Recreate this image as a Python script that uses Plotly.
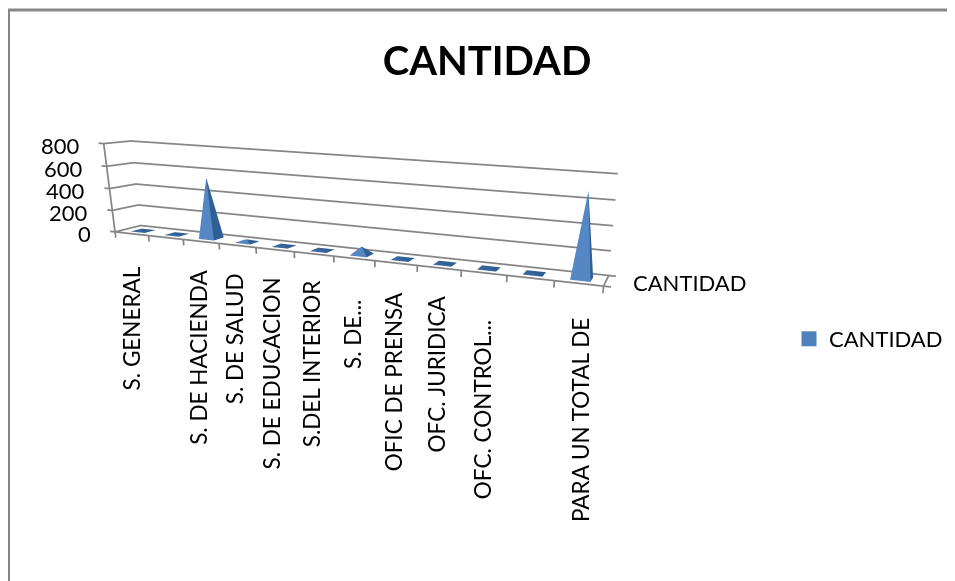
import plotly.graph_objects as go

# values
categories = ["S. GENERAL", "", "S. DE HACIENDA", "S. DE SALUD", "S. DE EDUCACION", "S.DEL INTERIOR",
              "S. DE...", "OFIC DE PRENSA", "OFC. JURIDICA", "OFC. CONTROL...", "", "PARA UN TOTAL DE"]
cantidad = [5, 2, 545, 25, 10, 12, 70, 5, 5, 8, 3, 680]
z_ticks = [0, 200, 400, 600, 800]
series_name = "CANTIDAD"

FONT = "Lato"
GREY = "#868686"
FRONT = "#5487C4"
SIDE = "#2F5F94"
FLAT = "#38659B"

# how far each rotated label hangs below the floor edge, px
label_drop = [31, 0, 26, 26, 26, 24, 40, 27, 26, 45, 0, 33]
label_nudge = [0, 0, -2, -2, -3, -2, -1, -2, -3, -2, 0, 2]

vx, vy, vz, fi, fj, fk, fcol = [], [], [], [], [], [], []
for n, val in enumerate(cantidad):
    x0, x1, y0, y1 = n + 0.29, n + 0.71, 0.23, 0.67
    b = len(vx)
    vx += [x0, x1, x1, x0, n + 0.5]
    vy += [y0, y0, y1, y1, 0.45]
    vz += [0, 0, 0, 0, val]
    front = FRONT if val > 15 else FLAT
    # front, right, back, left
    fi += [b, b + 1, b + 2, b + 3]
    fj += [b + 1, b + 2, b + 3, b]
    fk += [b + 4] * 4
    fcol += [front, SIDE, SIDE, front]

# walls, edges and ticks, in data units
nc = len(categories)
lx, ly, lz = [], [], []
def seg(*pts):
    for p in pts:
        lx.append(p[0]); ly.append(p[1]); lz.append(p[2])
    lx.append(None); ly.append(None); lz.append(None)

for t in z_ticks:
    seg((-0.15, 0, t), (0, 0, t), (0, 1, t), (nc, 1, t))
seg((0, 0, 0), (0, 0, 800))
seg((0, 0, 0), (nc, 0, 0))
seg((nc, 0, 0), (nc, 1, 0))
for k in range(nc + 1):
    seg((k, 0, 0), (k, 0, -55))
seg((nc, 0, 0), (nc + 0.15, 0, 0))
seg((nc, 1, 0), (nc + 0.15, 1, 0))

fig = go.Figure()
fig.add_trace(go.Scatter3d(x=lx, y=ly, z=lz, mode="lines", line=dict(color=GREY, width=3.5),
                           hoverinfo="skip", showlegend=False))
fig.add_trace(go.Mesh3d(x=vx, y=vy, z=vz, i=fi, j=fj, k=fk, facecolor=fcol, flatshading=True,
                        lighting=dict(ambient=1, diffuse=0, specular=0, fresnel=0, roughness=1),
                        hoverinfo="skip", showlegend=False))
fig.add_trace(go.Scatter3d(x=[None], y=[None], z=[None], mode="markers", name=series_name,
                           marker=dict(symbol="square", size=15, color="#4F81BD"), showlegend=True))

notes = []
for n, lab in enumerate(categories):
    if not lab:
        continue
    notes.append(dict(x=n + 0.5, y=0, z=0, text=lab, textangle=-90, showarrow=False,
                      xanchor="center", yanchor="top", yshift=-label_drop[n], xshift=label_nudge[n],
                      font=dict(family=FONT, size=22.5, color="black")))
for t in z_ticks:
    notes.append(dict(x=0, y=0, z=t, text=str(t), showarrow=False, xanchor="right", yanchor="middle",
                      xshift=-22, yshift=-2, font=dict(family=FONT, size=22, color="black")))
notes.append(dict(x=nc, y=0.5, z=0, text=series_name, showarrow=False, xanchor="left", yanchor="middle",
                  xshift=25, yshift=-2, font=dict(family=FONT, size=22, color="black")))

hidden = dict(visible=False, showbackground=False, showspikes=False)
# the page has an 8px body margin, so the figure is 8px smaller than the window
fig.update_layout(
    width=947, height=573, margin=dict(l=0, r=0, t=0, b=0), paper_bgcolor="white",
    title=dict(text="<b>CANTIDAD</b>", x=479 / 947, xanchor="center", y=1 - 53 / 573, yanchor="middle",
               font=dict(family=FONT, size=40, color="black")),
    legend=dict(x=781 / 947, y=1 - 331 / 573, xanchor="left", yanchor="middle",
                font=dict(family=FONT, size=22, color="black"), bgcolor="rgba(0,0,0,0)"),
    shapes=[dict(type="rect", xref="paper", yref="paper", x0=0.5 / 947, x1=1.02, y0=-0.02, y1=1 - 2 / 573,
                 line=dict(color=GREY, width=3))],
    scene=dict(
        domain=dict(x=[0, 1], y=[0, 1]),
        dragmode="orbit",
        aspectmode="manual", aspectratio=dict(x=2 * 13 / 12, y=2 * 0.142, z=1.2 * 0.356),
        camera=dict(eye=dict(x=1.2335, y=-2.3091, z=0.4664), center=dict(x=0.5025, y=0.1841, z=-0.3406),
                    up=dict(x=-0.0305, y=-0.0068, z=1), projection=dict(type="perspective")),
        xaxis=dict(hidden, range=[-0.5, nc + 0.5]),
        yaxis=dict(hidden, range=[-0.5, 1.5]),
        zaxis=dict(hidden, range=[-80, 880]),
        annotations=notes,
    ),
)
fig.write_html("out.html")
